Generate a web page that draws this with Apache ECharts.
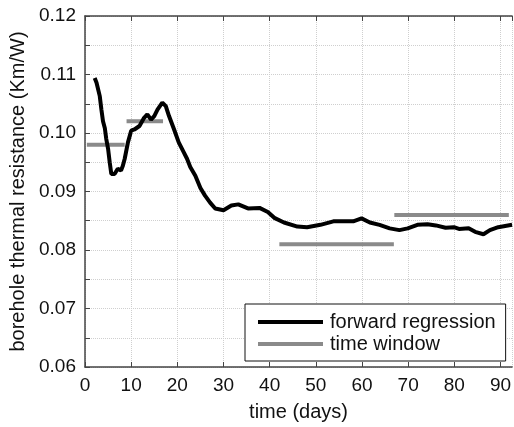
<!DOCTYPE html>
<html>
<head>
<meta charset="utf-8">
<script src="https://cdn.jsdelivr.net/npm/echarts@6/dist/echarts.min.js"></script>
<style>html,body{margin:0;padding:0;background:#fff;}#c{width:514px;height:427px;}</style>
</head>
<body>
<div id="c"></div>
<script>
const days = [2.1,2.5,2.85,3.2,3.55,3.9,4.3,4.6,5.0,5.35,5.7,6.4,7.1,7.8,8.2,8.6,9.3,10.0,10.7,11.8,12.8,13.5,14.3,15.0,15.7,16.75,17.5,18.2,19.3,20.3,21.4,22.1,22.8,23.9,25.0,26.0,27.1,28.2,30.0,31.7,33.2,35.3,37.8,39.6,41.0,43.1,46.0,48.1,51.0,53.8,56.7,58.1,59.9,61.7,63.8,66.0,68.1,69.9,72.0,74.2,76.0,78.1,79.9,81.0,83.1,84.5,86.3,87.7,89.5,92.5];
const resistance = [0.1094,0.1086,0.1088,0.1063,0.1040,0.1020,0.1008,0.0990,0.0973,0.0950,0.0930,0.0930,0.0939,0.0936,0.0944,0.0956,0.0984,0.1004,0.1006,0.1012,0.1026,0.1032,0.1023,0.1029,0.1040,0.1052,0.1046,0.1029,0.1006,0.0984,0.0967,0.0956,0.0942,0.0927,0.0906,0.0893,0.0881,0.0871,0.0868,0.0876,0.0878,0.0871,0.0872,0.0865,0.0855,0.0847,0.0840,0.0839,0.0843,0.0849,0.0849,0.0849,0.0854,0.0847,0.0843,0.0837,0.0834,0.0837,0.0843,0.0844,0.0842,0.0838,0.0839,0.0836,0.0837,0.0831,0.0827,0.0834,0.0839,0.0843];
const windowStart = [0.4, 9.0, 42.1, 67.0];
const windowEnd = [8.6, 16.9, 66.9, 91.8];
const windowValue = [0.098, 0.102, 0.081, 0.086];
const yTicks = [0.06,0.07,0.08,0.09,0.10,0.11,0.12];

const font = 'Liberation Sans, Arial, sans-serif';
const chart = echarts.init(document.getElementById('c'));
const series = [{
  name: 'forward regression', type: 'line', showSymbol: false, symbol: 'none',
  data: days.map((d,i)=>[d, resistance[i]]),
  lineStyle: {color: '#000', width: 4}, itemStyle: {color: '#000'}, z: 3
}];
windowStart.forEach((s,i)=>{
  series.push({
    name: 'time window', type: 'line', symbol: 'none', showSymbol: false,
    data: [[s, windowValue[i]], [windowEnd[i], windowValue[i]]],
    lineStyle: {color: '#8a8a8a', width: 4}, itemStyle: {color: '#8a8a8a'}, z: 2
  });
});
const axisLine = {show: true, lineStyle: {color: '#444', width: 1.5}};
chart.setOption({
  animation: false,
  grid: {left: 82, top: 16, right: 0, bottom: 57},
  legend: {
    orient: 'vertical', left: 245, top: 304, width: 262,
    padding: [8, 10, 7, 13], itemGap: 2, itemWidth: 65, itemHeight: 4,
    icon: 'rect', borderColor: '#111', borderWidth: 1, backgroundColor: '#fff',
    data: ['forward regression', 'time window'],
    textStyle: {fontFamily: font, fontSize: 20, color: '#111', padding: [0,0,0,2]}
  },
  xAxis: [{
    type: 'value', min: 0, max: 92.5, interval: 10,
    name: 'time (days)', nameLocation: 'middle', nameGap: 35,
    nameTextStyle: {fontFamily: font, fontSize: 20, color: '#111'},
    axisLine: axisLine,
    axisTick: {show: true, inside: true, length: 5, lineStyle: {color: '#444'}},
    axisLabel: {fontFamily: font, fontSize: 19, color: '#111', margin: 9, showMaxLabel: false},
    splitLine: {show: true, lineStyle: {color: '#cfcfcf', type: 'dotted', width: 1}}
  }, {
    type: 'value', min: 0, max: 92.5, interval: 10, position: 'top',
    axisLine: axisLine,
    axisTick: {show: true, inside: true, length: 5, lineStyle: {color: '#444'}},
    axisLabel: {show: false}, splitLine: {show: false}
  }],
  yAxis: [{
    type: 'value', min: 0.06, max: 0.12, interval: 0.005,
    name: 'borehole thermal resistance (Km/W)', nameLocation: 'middle', nameGap: 57,
    nameTextStyle: {fontFamily: font, fontSize: 20, color: '#111'},
    axisLine: axisLine,
    axisTick: {show: true, inside: true, length: 5, lineStyle: {color: '#444'}},
    axisLabel: {fontFamily: font, fontSize: 19, color: '#111', margin: 9,
      formatter: v => { const t = yTicks.find(x => Math.abs(x - v) < 1e-6); return t !== undefined ? t.toFixed(2) : ''; }},
    splitLine: {show: true, lineStyle: {color: '#cfcfcf', type: 'dotted', width: 1}}
  }],
  series: series
});
</script>
</body>
</html>
